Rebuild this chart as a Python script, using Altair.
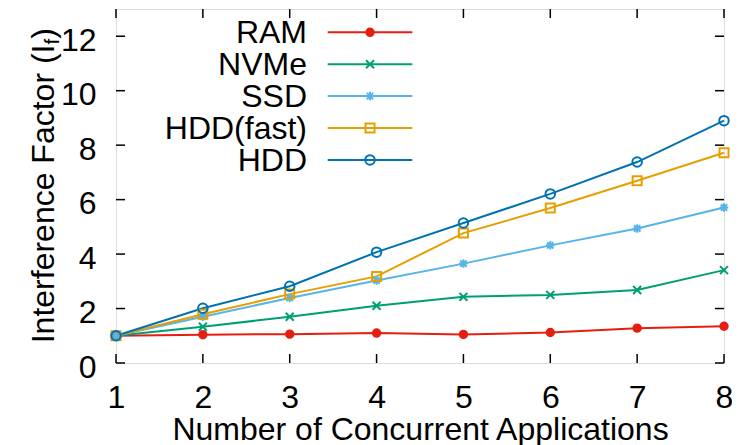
import altair as alt
import pandas as pd

# ---- data ----
apps = [1, 2, 3, 4, 5, 6, 7, 8]
series_names = ["RAM", "NVMe", "SSD", "HDD(fast)", "HDD"]
ram = [1.0, 1.04, 1.06, 1.10, 1.05, 1.12, 1.28, 1.35]
nvme = [1.0, 1.33, 1.70, 2.10, 2.43, 2.50, 2.68, 3.41]
ssd = [1.0, 1.70, 2.39, 3.03, 3.65, 4.32, 4.94, 5.71]
hdd_fast = [1.0, 1.79, 2.53, 3.18, 4.77, 5.69, 6.69, 7.72]
hdd = [1.0, 2.01, 2.82, 4.07, 5.14, 6.21, 7.38, 8.90]
x_ticks = [1, 2, 3, 4, 5, 6, 7, 8]
y_ticks = [0, 2, 4, 6, 8, 10, 12]
x_title = "Number of Concurrent Applications"
y_title_main = "Interference Factor (I"
y_title_sub = "f"
y_title_end = ")"

# ---- styles ----
colors = ["#e51e10", "#009e73", "#56b4e9", "#e69f00", "#0072b2"]
fills = ["#e51e10", "transparent", "transparent", "transparent", "transparent"]
shape_x = "M-1,-1L1,1M-1,1L1,-1"
shape_star = "M-1,0L1,0M0,-1L0,1M-0.75,-0.75L0.75,0.75M-0.75,0.75L0.75,-0.75"
shapes = ["circle", shape_x, shape_star, "square", "circle"]
sizes = [55, 90, 100, 95, 75]
FONT = "Liberation Sans"
FS = 32
W, H = 608, 354

rows = []
for name, vals in zip(series_names, [ram, nvme, ssd, hdd_fast, hdd]):
    for a, v in zip(apps, vals):
        rows.append({"apps": a, "value": v, "series": name, "order": series_names.index(name)})
df = pd.DataFrame(rows)

xscale = alt.Scale(domain=[1, 8], nice=False, zero=False)
yscale = alt.Scale(domain=[0, 13], nice=False, zero=True)
color_scale = alt.Scale(domain=series_names, range=colors)
fill_scale = alt.Scale(domain=series_names, range=fills)
shape_scale = alt.Scale(domain=series_names, range=shapes)
size_scale = alt.Scale(domain=series_names, range=sizes)

base = alt.Chart(df)

lines = base.mark_line(strokeWidth=2).encode(
    x=alt.X("apps:Q", scale=xscale,
            axis=alt.Axis(values=x_ticks, format="d", title=x_title, grid=False,
                          domain=False, ticks=False, tickSize=0, labelFontSize=FS,
                          labelFont=FONT, labelColor="black", labelPadding=44.5,
                          labelBaseline="alphabetic", labelFlush=False, labelOverlap=False,
                          titleFont=FONT, titleFontSize=FS, titleFontWeight="normal",
                          titleColor="black", titleBaseline="alphabetic", titleY=76)),
    y=alt.Y("value:Q", scale=yscale,
            axis=alt.Axis(values=y_ticks, format="d", title=None, grid=False,
                          domain=False, ticks=False, tickSize=0, labelFontSize=FS,
                          labelFont=FONT, labelColor="black", labelPadding=20,
                          labelOffset=4, labelFlush=False, labelOverlap=False)),
    color=alt.Color("series:N", scale=color_scale, legend=None),
    order=alt.Order("order:Q"),
)

points = base.mark_point(strokeWidth=2, opacity=1).encode(
    x=alt.X("apps:Q", scale=xscale),
    y=alt.Y("value:Q", scale=yscale),
    stroke=alt.Stroke("series:N", scale=color_scale, legend=None),
    fill=alt.Fill("series:N", scale=fill_scale, legend=None),
    shape=alt.Shape("series:N", scale=shape_scale, legend=None),
    size=alt.Size("series:N", scale=size_scale, legend=None),
    order=alt.Order("order:Q"),
)

# inward tick marks (mirrored on all four sides)
xt = alt.Chart(pd.DataFrame({"t": x_ticks}))
yt = alt.Chart(pd.DataFrame({"t": y_ticks}))
tick_style = dict(color="black", strokeWidth=1.5)
xt_bottom = xt.mark_rule(**tick_style).encode(
    x=alt.X("t:Q", scale=xscale), y=alt.value(H), y2=alt.value(H - 9))
xt_top = xt.mark_rule(**tick_style).encode(
    x=alt.X("t:Q", scale=xscale), y=alt.value(0), y2=alt.value(9))
yt_left = yt.mark_rule(**tick_style).encode(
    y=alt.Y("t:Q", scale=yscale), x=alt.value(0), x2=alt.value(9))
yt_right = yt.mark_rule(**tick_style).encode(
    y=alt.Y("t:Q", scale=yscale), x=alt.value(W), x2=alt.value(W - 9))

main = alt.layer(xt_bottom, xt_top, yt_left, yt_right, lines, points)

# ---- manual gnuplot-style key (label right-aligned, sample line + marker) ----
leg_df = pd.DataFrame({"series": series_names, "row": list(range(len(series_names)))})
row_scale = alt.Scale(domain=[0, 4], range=[23.3, 23.3 + 4 * 31.9], nice=False, zero=False)
leg = alt.Chart(leg_df)
leg_text = leg.mark_text(align="right", baseline="middle", fontSize=FS, font=FONT,
                         color="black", dy=1).encode(
    x=alt.value(191), y=alt.Y("row:Q", scale=row_scale, axis=None), text="series:N")
leg_line = leg.mark_rule(strokeWidth=2).encode(
    x=alt.value(211.7), x2=alt.value(296.3),
    y=alt.Y("row:Q", scale=row_scale, axis=None),
    color=alt.Color("series:N", scale=color_scale, legend=None))
leg_pts = leg.mark_point(strokeWidth=2, opacity=1).encode(
    x=alt.value(254), y=alt.Y("row:Q", scale=row_scale, axis=None),
    stroke=alt.Stroke("series:N", scale=color_scale, legend=None),
    fill=alt.Fill("series:N", scale=fill_scale, legend=None),
    shape=alt.Shape("series:N", scale=shape_scale, legend=None),
    size=alt.Size("series:N", scale=size_scale, legend=None))

# ---- y-axis title with subscript ----
one = alt.Chart(pd.DataFrame({"k": [0]}))
yt_main = one.mark_text(angle=270, align="right", baseline="alphabetic", fontSize=FS,
                        font=FONT, color="black").encode(
    x=alt.value(-62), y=alt.value(35.5), text=alt.value(y_title_main))
yt_sub = one.mark_text(angle=270, align="right", baseline="alphabetic", fontSize=21,
                       font=FONT, color="black").encode(
    x=alt.value(-57), y=alt.value(29.7), text=alt.value(y_title_sub))
yt_end = one.mark_text(angle=270, align="right", baseline="alphabetic", fontSize=FS,
                       font=FONT, color="black").encode(
    x=alt.value(-62), y=alt.value(19), text=alt.value(y_title_end))

legend_layer = alt.layer(leg_line, leg_pts, leg_text, yt_main, yt_sub, yt_end)

chart = alt.layer(main, legend_layer).resolve_scale(y="independent").properties(
    width=W, height=H,
    autosize=alt.AutoSizeParams(type="none"),
    padding={"left": 108, "top": 1, "right": 8, "bottom": 82},
).configure_view(stroke="black", strokeWidth=2).configure(background="white")

chart.save("out.html", embed_options={"renderer": "svg", "actions": False})
